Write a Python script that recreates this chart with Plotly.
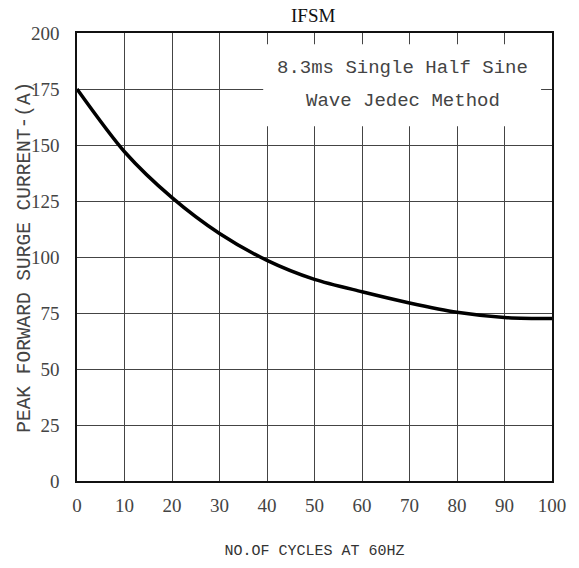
import plotly.graph_objects as go

cycles = [0, 10, 20, 30, 40, 50, 60, 70, 80, 90, 100]
current = [175, 147, 126.5, 110.5, 98.5, 90, 84.5, 79.5, 75.3, 73, 72.5]
x_ticks = [0, 10, 20, 30, 40, 50, 60, 70, 80, 90, 100]
y_ticks = [0, 25, 50, 75, 100, 125, 150, 175, 200]

title_text = "IFSM"
x_title = "NO.OF CYCLES AT 60HZ"
y_title = "PEAK FORWARD SURGE CURRENT-(A)"
note_lines = ["8.3ms Single Half Sine", "Wave Jedec Method"]

MONO = "Liberation Mono"
SERIF = "Liberation Serif"

fig = go.Figure()
fig.add_trace(go.Scatter(
    x=cycles, y=current, mode="lines",
    line=dict(color="black", width=3.5, shape="spline", smoothing=0.8),
    hoverinfo="skip", showlegend=False,
))

fig.update_layout(
    width=579, height=568,
    margin=dict(l=77, r=27, t=33, b=87),
    paper_bgcolor="white", plot_bgcolor="white",
    font=dict(family=MONO, color="#222"),
    title=dict(text=title_text, x=0.541, xanchor="center", y=0.973, yanchor="middle",
               font=dict(family=SERIF, size=19, color="#111")),
    showlegend=False,
)
fig.update_xaxes(
    range=[0, 100], tickvals=x_ticks, ticktext=[str(v) for v in x_ticks],
    showgrid=True, gridcolor="#444", gridwidth=1,
    showline=True, linecolor="#111", linewidth=1.5, mirror=True,
    ticks="", ticklabelstandoff=6, zeroline=False, automargin=False,
    tickfont=dict(family=SERIF, size=19, color="#444"),
    title=dict(text=x_title, font=dict(family=MONO, size=15, color="#333"), standoff=30),
)
fig.update_yaxes(
    range=[0, 200], tickvals=y_ticks, ticktext=[str(v) for v in y_ticks],
    showgrid=True, gridcolor="#444", gridwidth=1,
    showline=True, linecolor="#111", linewidth=1.5, mirror=True,
    ticks="", ticklabelstandoff=12, zeroline=False, automargin=False,
    tickfont=dict(family=SERIF, size=19, color="#444"),
)

# y-axis title placed as rotated text
fig.add_annotation(xref="paper", yref="paper", x=-0.11, y=0.5,
                   xanchor="center", yanchor="middle", textangle=-90,
                   text=y_title, showarrow=False,
                   font=dict(family=MONO, size=19.5, color="#444"))

fig.add_shape(type="rect", xref="paper", yref="paper",
              x0=0.392, x1=0.977, y0=0.792, y1=0.975,
              fillcolor="white", line=dict(width=0), layer="above")
for line_text, ypos in zip(note_lines, [0.922, 0.848]):
    fig.add_annotation(xref="paper", yref="paper", x=0.686, y=ypos,
                       xanchor="center", yanchor="middle",
                       text=line_text, showarrow=False,
                       font=dict(family=MONO, size=19, color="#444"))

fig.write_html("out.html", config={"displayModeBar": False},
               post_script="document.body.style.margin='0';")
